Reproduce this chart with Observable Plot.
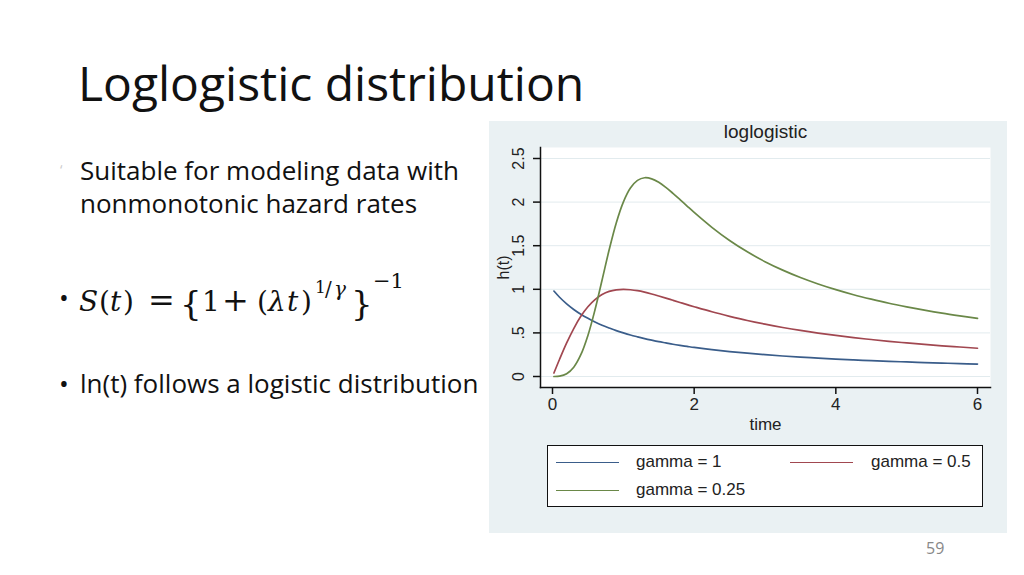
<!DOCTYPE html>
<html><head><meta charset="utf-8">
<script src="https://cdn.jsdelivr.net/npm/d3@7"></script>
<script src="https://cdn.jsdelivr.net/npm/@observablehq/plot@0.6"></script>
<style>
html,body{margin:0;padding:0;background:#fff;}
#slide{position:relative;width:1024px;height:575px;overflow:hidden;font-family:"Open Sans",sans-serif;color:#111;}
.abs{position:absolute;white-space:nowrap;}
#title{left:78px;top:50px;font-size:48px;line-height:66px;}
.body{font-size:26px;line-height:33px;}
#eq{left:0px;top:260px;}
#eq text{font-family:"DejaVu Serif","Liberation Serif",serif;fill:#111;}
#panel{left:489px;top:121px;width:518px;height:412px;background:#eaf1f3;}
#chart{left:489px;top:121px;}
#legend{left:547px;top:445px;width:434px;height:60px;border:1.5px solid #111;background:#fff;font-family:"Liberation Sans",Arial,sans-serif;font-size:17px;color:#222;}
.sw{position:absolute;height:0;border-top:1.6px solid;width:63px;}
.lt{position:absolute;line-height:20px;}
#pnum{left:926px;top:537px;font-size:16px;color:#888;}
</style></head>
<body><div id="slide">
<div id="title" class="abs">Loglogistic distribution</div>
<div class="abs" style="left:60px;top:160px;color:#ccc;font-size:14px;">&#8216;</div>
<div class="abs body" style="left:80px;top:154px;">Suitable for modeling data with<br>nonmonotonic hazard rates</div>
<div class="abs body" style="left:59px;top:281px;">•</div>
<svg id="eq" class="abs" width="420" height="70">
  <text y="51" font-size="28"><tspan x="79" font-style="italic">S</tspan><tspan x="99">(</tspan><tspan x="110" font-style="italic">t</tspan><tspan x="123">)</tspan></text>
  <text x="148" y="51" font-size="32">=</text>
  <text x="180" y="55" font-size="34">{</text>
  <text x="202" y="51" font-size="28">1</text>
  <text x="222" y="51" font-size="32">+</text>
  <text y="51" font-size="28"><tspan x="257">(</tspan><tspan x="268" font-style="italic">λ</tspan><tspan x="287" font-style="italic">t</tspan><tspan x="301">)</tspan></text>
  <text y="36" font-size="20"><tspan x="315" dy="-3" font-size="17">1</tspan><tspan x="325" dy="3">/</tspan><tspan x="334" font-style="italic">γ</tspan></text>
  <text x="351" y="55" font-size="34">}</text>
  <text x="373" y="28" font-size="21">−1</text>
</svg>
<div class="abs body" style="left:59px;top:367px;">•</div>
<div class="abs body" style="left:80px;top:367px;">ln(t) follows a logistic distribution</div>
<div id="panel" class="abs"></div>
<div id="chart" class="abs"></div>
<div id="legend" class="abs"></div>
<div id="pnum" class="abs">59</div>
</div>
<script>
const time = [0.02,0.1,0.2,0.3,0.4,0.5,0.6,0.7,0.8,0.9,1.0,1.1,1.2,1.3,1.4,1.5,1.6,1.7,1.8,1.9,2.0,2.25,2.5,2.75,3.0,3.25,3.5,3.75,4.0,4.25,4.5,4.75,5.0,5.25,5.5,5.75,6.0];
const gamma1 = [0.980,0.909,0.833,0.769,0.714,0.667,0.625,0.588,0.556,0.526,0.500,0.476,0.455,0.435,0.417,0.400,0.385,0.370,0.357,0.345,0.333,0.308,0.286,0.267,0.250,0.235,0.222,0.211,0.200,0.190,0.182,0.174,0.167,0.160,0.154,0.148,0.143];
const gamma05 = [0.040,0.198,0.385,0.550,0.690,0.800,0.882,0.940,0.976,0.994,1.000,0.995,0.984,0.967,0.946,0.923,0.899,0.874,0.849,0.824,0.800,0.742,0.690,0.642,0.600,0.562,0.528,0.498,0.471,0.446,0.424,0.403,0.385,0.368,0.352,0.338,0.324];
const gamma025 = [0.000,0.004,0.032,0.107,0.250,0.471,0.765,1.106,1.453,1.761,2.000,2.161,2.249,2.279,2.267,2.227,2.169,2.101,2.029,1.955,1.882,1.711,1.560,1.430,1.317,1.220,1.135,1.061,0.996,0.938,0.887,0.840,0.799,0.761,0.726,0.695,0.666];
const seriesNames = ["gamma = 1","gamma = 0.5","gamma = 0.25"];
const seriesColors = ["#3a5d8a","#a14750","#6a8848"];
const xTicks = [0,2,4,6];
const xTickLabels = ["0","2","4","6"];
const yTicks = [0,0.5,1,1.5,2,2.5];
const yTickLabels = ["0",".5","1","1.5","2","2.5"];

const rows = [];
[gamma1,gamma05,gamma025].forEach((vals,k)=>vals.forEach((v,i)=>rows.push({t:time[i],h:v,s:seriesNames[k]})));

const chart = Plot.plot({
  width:518, height:315,
  marginLeft:51, marginRight:17, marginTop:26, marginBottom:49,
  style:{background:"transparent", fontFamily:"'Liberation Sans',Arial,sans-serif", fontSize:"16px", color:"#222"},
  x:{domain:[0,6], insetLeft:12, insetRight:13},
  y:{domain:[0,2.5], insetTop:11, insetBottom:11},
  color:{domain:seriesNames, range:seriesColors},
  marks:[
    Plot.frame({fill:"white", stroke:null}),
    Plot.gridY(yTicks, {stroke:"#e2ebee", strokeOpacity:1, strokeWidth:1}),
    Plot.line(rows, {x:"t", y:"h", stroke:"s", z:"s", curve:"catmull-rom", strokeWidth:1.7}),
    Plot.frame({anchor:"left", stroke:"#111", strokeWidth:1.5}),
    Plot.frame({anchor:"bottom", stroke:"#111", strokeWidth:1.5}),
    Plot.axisX({ticks:xTicks, tickSize:7, tickPadding:3, label:null, stroke:"#111", strokeWidth:1.5, fontSize:17, tickFormat:(d)=>xTickLabels[xTicks.indexOf(d)]}),
    Plot.axisY({ticks:yTicks, tickSize:7, tickFormat:()=>"", label:null, stroke:"#111", strokeWidth:1.5}),
    Plot.text(yTicks, {y:d=>d, text:(d,i)=>yTickLabels[i], frameAnchor:"left", dx:-22, rotate:-90, textAnchor:"middle", lineAnchor:"middle", fontSize:16}),
    Plot.text(["loglogistic"], {frameAnchor:"top", dy:-16, fontSize:19, lineAnchor:"middle"}),
    Plot.text(["time"], {frameAnchor:"bottom", dy:37, fontSize:17, lineAnchor:"middle"}),
    Plot.text(["h(t)"], {frameAnchor:"left", dx:-37, rotate:-90, fontSize:16, textAnchor:"middle", lineAnchor:"middle"})
  ]
});
document.getElementById("chart").appendChild(chart);

const leg = document.getElementById("legend");
const pos = [[8,16,88],[242,16,323],[8,44,88]];
seriesNames.forEach((n,k)=>{
  const [lx,ly,tx] = pos[k];
  const s = document.createElement("div"); s.className="sw";
  s.style.left=lx+"px"; s.style.top=ly+"px"; s.style.borderTopColor=seriesColors[k];
  leg.appendChild(s);
  const t = document.createElement("div"); t.className="lt";
  t.style.left=tx+"px"; t.style.top=(ly-10)+"px"; t.textContent=n;
  leg.appendChild(t);
});
</script>
</body></html>
